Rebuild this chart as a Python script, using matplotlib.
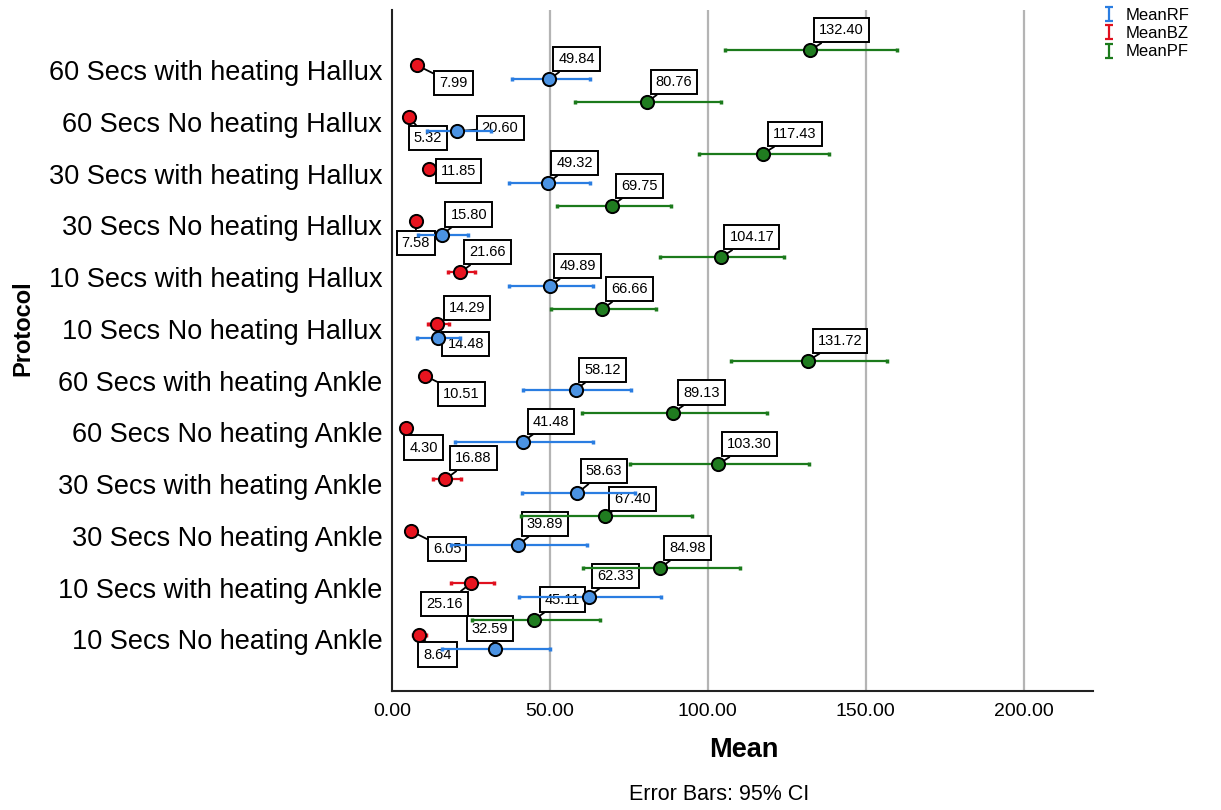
import matplotlib
matplotlib.use("Agg")
import matplotlib.pyplot as plt
from matplotlib.legend_handler import HandlerErrorbar
import numpy as np

# ---------------- data ----------------
protocols = [
    "60 Secs with heating Hallux",
    "60 Secs No heating Hallux",
    "30 Secs with heating Hallux",
    "30 Secs No heating Hallux",
    "10 Secs with heating Hallux",
    "10 Secs No heating Hallux",
    "60 Secs with heating Ankle",
    "60 Secs No heating Ankle",
    "30 Secs with heating Ankle",
    "30 Secs No heating Ankle",
    "10 Secs with heating Ankle",
    "10 Secs No heating Ankle",
]

rf_mean = [49.84, 20.60, 49.32, 15.80, 49.89, 14.48, 58.12, 41.48, 58.63, 39.89, 62.33, 32.59]
rf_low  = [37.9, 11.1, 37.0, 8.3, 37.1, 8.0, 41.4, 20.1, 41.2, 18.8, 40.2, 15.9]
rf_high = [62.6, 31.2, 62.6, 24.1, 63.6, 21.4, 75.8, 63.7, 77.1, 61.6, 85.3, 50.0]

bz_mean = [7.99, 5.32, 11.85, 7.58, 21.66, 14.29, 10.51, 4.30, 16.88, 6.05, 25.16, 8.64]
bz_low  = [6.5, 4.0, 10.3, 6.2, 17.8, 11.5, 9.0, 3.0, 12.9, 4.8, 18.8, 6.6]
bz_high = [9.5, 6.6, 13.4, 9.0, 26.4, 18.2, 12.0, 5.6, 21.7, 7.3, 32.3, 10.8]

pf_mean = [132.40, 80.76, 117.43, 69.75, 104.17, 66.66, 131.72, 89.13, 103.30, 67.40, 84.98, 45.11]
pf_low  = [105.6, 58.1, 97.2, 52.1, 85.0, 50.5, 107.2, 60.2, 75.3, 40.7, 60.6, 25.4]
pf_high = [160.0, 104.3, 138.5, 88.2, 124.3, 83.6, 156.9, 118.8, 132.2, 95.1, 110.2, 66.0]

x_ticks = [0, 50, 100, 150, 200]

# ---------------- layout / style ----------------
# label box offsets in pixels (dx right, dy down) relative to the point
rf_lab_off = [(27, -20), (43, -3), (27, -20), (27, -20), (28, -20), (28, 6),
              (27, -20), (28, -20), (27, -22), (27, -21), (27, -21), (-5, -20)]
bz_lab_off = [(36, 18), (19, 21), (29, 2), (0, 22), (27, -20), (30, -16),
              (36, 18), (18, 20), (28, -21), (36, 18), (-27, 21), (18, 20)]
pf_lab_off = [(31, -20), (27, -20), (32, -20), (27, -20), (31, -20), (27, -20),
              (32, -20), (28, -20), (31, -20), (28, -17), (27, -20), (28, -20)]

FONT = "Liberation Sans"
LABFONT = ["Liberation Sans Narrow", "Liberation Sans"]
plt.rcParams["font.family"] = [FONT, "DejaVu Sans"]

fig = plt.figure(figsize=(12.21, 8.10), dpi=100)
ax = fig.add_axes([392 / 1221, 1 - 691 / 810, (1093 - 392) / 1221, (691 - 10) / 810])

y_base = np.arange(len(protocols))

series = [
    ("MeanPF", pf_mean, pf_low, pf_high, -0.38, "#1b7a1b", "#207c20", pf_lab_off),
    ("MeanBZ", bz_mean, bz_low, bz_high, -0.09, "#e0101e", "#e8141f", bz_lab_off),
    ("MeanRF", rf_mean, rf_low, rf_high, 0.18, "#2a7de1", "#4b93e3", rf_lab_off),
]

for name, mean, low, high, off, lcol, fcol, laboff in series:
    m = np.array(mean)
    lo = m - np.array(low)
    hi = np.array(high) - m
    yy = y_base + off
    ax.errorbar(m, yy, xerr=[lo, hi], fmt="none", ecolor=lcol, elinewidth=1.6,
                capsize=1.2, capthick=2.5, zorder=3)
    ax.plot(m, yy, "o", ms=9.5, mfc=fcol, mec="black", mew=1.4, zorder=4, ls="none")
    for xv, yv, (dx, dy) in zip(m, yy, laboff):
        ax.annotate(f"{xv:.2f}", xy=(xv, yv), xytext=(dx, -dy), textcoords="offset pixels",
                    ha="center", va="center", fontsize=10.5, family=LABFONT,
                    bbox=dict(boxstyle="square,pad=0.35", fc="white", ec="black", lw=1.4),
                    arrowprops=dict(arrowstyle="-", color="black", lw=1.3,
                                    shrinkA=0, shrinkB=0),
                    zorder=2.5)

ax.set_xlim(0, 222)
ax.set_ylim(12.0, -1.16)
ax.set_xticks(x_ticks)
ax.set_xticklabels([f"{t:.2f}" for t in x_ticks], fontsize=14)
ax.set_yticks(y_base)
ax.set_yticklabels(protocols, fontsize=19.5)
ax.tick_params(axis="both", length=0)
ax.tick_params(axis="x", pad=9)
ax.tick_params(axis="y", pad=7)

for t in x_ticks[1:]:
    ax.axvline(t, color="#b4b4b4", lw=1.6, zorder=0.5)

for s in ["top", "right"]:
    ax.spines[s].set_visible(False)
for s in ["left", "bottom"]:
    ax.spines[s].set_linewidth(1.5)
    ax.spines[s].set_color("#222222")

fig.text(744 / 1221, 1 - 750 / 810, "Mean", ha="center", va="center",
         fontsize=19.5, fontweight="bold")
fig.text(719 / 1221, 1 - 795 / 810, "Error Bars: 95% CI", ha="center", va="center",
         fontsize=15.5)
fig.text(23 / 1221, 1 - 328 / 810, "Protocol", ha="center", va="center",
         fontsize=17, fontweight="bold", rotation=90)

# legend with I-shaped error bar glyphs
handles = []
for name, col in [("MeanRF", "#2a7de1"), ("MeanBZ", "#e0101e"), ("MeanPF", "#1b7a1b")]:
    h = ax.errorbar([np.nan], [np.nan], yerr=[1], fmt="none", ecolor=col,
                    elinewidth=1.6, capsize=3, capthick=1.6, label=name)
    handles.append(h)
fig.legend(handles=handles, labels=["MeanRF", "MeanBZ", "MeanPF"],
           loc="upper left", bbox_to_anchor=(1086 / 1221, 1.009), frameon=False,
           fontsize=12, handlelength=1.0, handletextpad=0.45, labelspacing=0.2,
           handler_map={type(handles[0]): HandlerErrorbar(yerr_size=0.42)})

fig.savefig("out.png", dpi=100)
